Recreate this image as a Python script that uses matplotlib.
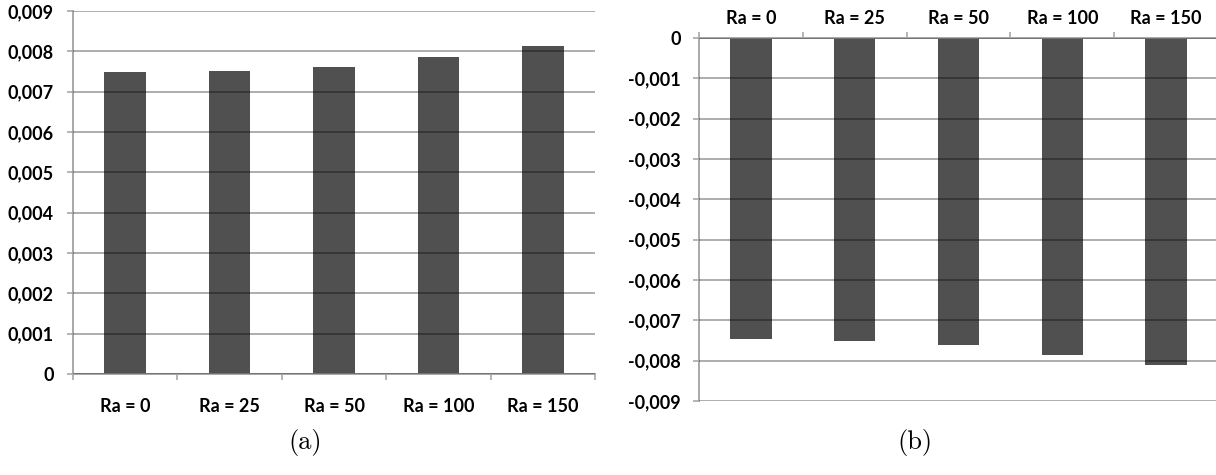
import matplotlib.pyplot as plt
import numpy as np

categories = ['Ra = 0', 'Ra = 25', 'Ra = 50', 'Ra = 100', 'Ra = 150']
values_a = [0.00748, 0.00752, 0.00760, 0.00787, 0.00812]
values_b = [-0.00747, -0.00751, -0.00760, -0.00786, -0.00811]
yticks_a = [0, 0.001, 0.002, 0.003, 0.004, 0.005, 0.006, 0.007, 0.008, 0.009]
ylabels_a = ['0', '0,001', '0,002', '0,003', '0,004', '0,005', '0,006', '0,007', '0,008', '0,009']
yticks_b = [0, -0.001, -0.002, -0.003, -0.004, -0.005, -0.006, -0.007, -0.008, -0.009]
ylabels_b = ['0', '-0,001', '-0,002', '-0,003', '-0,004', '-0,005', '-0,006', '-0,007', '-0,008', '-0,009']

bar_color = '#505050'
axis_color = '#a8a8a8'
font = 'Lato'
fsize = 13

fig = plt.figure(figsize=(12.16, 4.75), dpi=100)
ax1 = fig.add_axes([73 / 1216, 1 - 374 / 475, 522 / 1216, 363 / 475])
ax2 = fig.add_axes([699 / 1216, 1 - 401 / 475, 519 / 1216, 363 / 475])

x = np.arange(len(categories))


def style(ax, yticks, ylabels, top):
    ax.set_xlim(-0.5, len(categories) - 0.5)
    ax.set_yticks(yticks)
    ax.set_yticklabels(ylabels, fontfamily=font, fontweight='bold', fontsize=fsize)
    ax.yaxis.grid(True, color='black', alpha=0.32, linewidth=1.4)
    ax.set_axisbelow(False)
    # category labels sit between boundary ticks
    ax.set_xticks(x)
    ax.set_xticklabels(categories, fontfamily=font, fontweight='bold', fontsize=fsize)
    ax.set_xticks(np.arange(len(categories) + 1) - 0.5, minor=True)
    ax.tick_params(axis='x', which='major', length=0)
    ax.tick_params(axis='x', which='minor', length=4, color=axis_color, width=1.2)
    ax.tick_params(axis='y', length=4, color=axis_color, width=1.2)
    for s in ['top', 'right', 'bottom', 'left']:
        ax.spines[s].set_visible(False)
    ax.spines['left'].set_visible(True)
    ax.spines['left'].set_color(axis_color)
    ax.spines['left'].set_linewidth(1.4)
    side = 'top' if top else 'bottom'
    ax.spines[side].set_visible(True)
    ax.spines[side].set_color(axis_color)
    ax.spines[side].set_linewidth(1.4)


ax1.bar(x, values_a, width=0.4, color=bar_color, zorder=1)
ax1.set_ylim(0, 0.009)
style(ax1, yticks_a, ylabels_a, top=False)
ax1.tick_params(axis='y', pad=10)
ax1.tick_params(axis='x', which='major', pad=17)

ax2.bar(x, values_b, width=0.4, color=bar_color, zorder=1)
ax2.set_ylim(-0.009, 0)
style(ax2, yticks_b, ylabels_b, top=True)
ax2.xaxis.tick_top()
ax2.tick_params(axis='x', which='both', top=True, bottom=False)
ax2.tick_params(axis='x', which='major', pad=8)
ax2.tick_params(axis='y', pad=9)

fig.text(305 / 1216, 1 - 443 / 475, '(a)', fontfamily='cmr10', fontsize=19,
         ha='center', va='center')
fig.text(915 / 1216, 1 - 443 / 475, '(b)', fontfamily='cmr10', fontsize=19,
         ha='center', va='center')

fig.savefig('out.png', dpi=100)
